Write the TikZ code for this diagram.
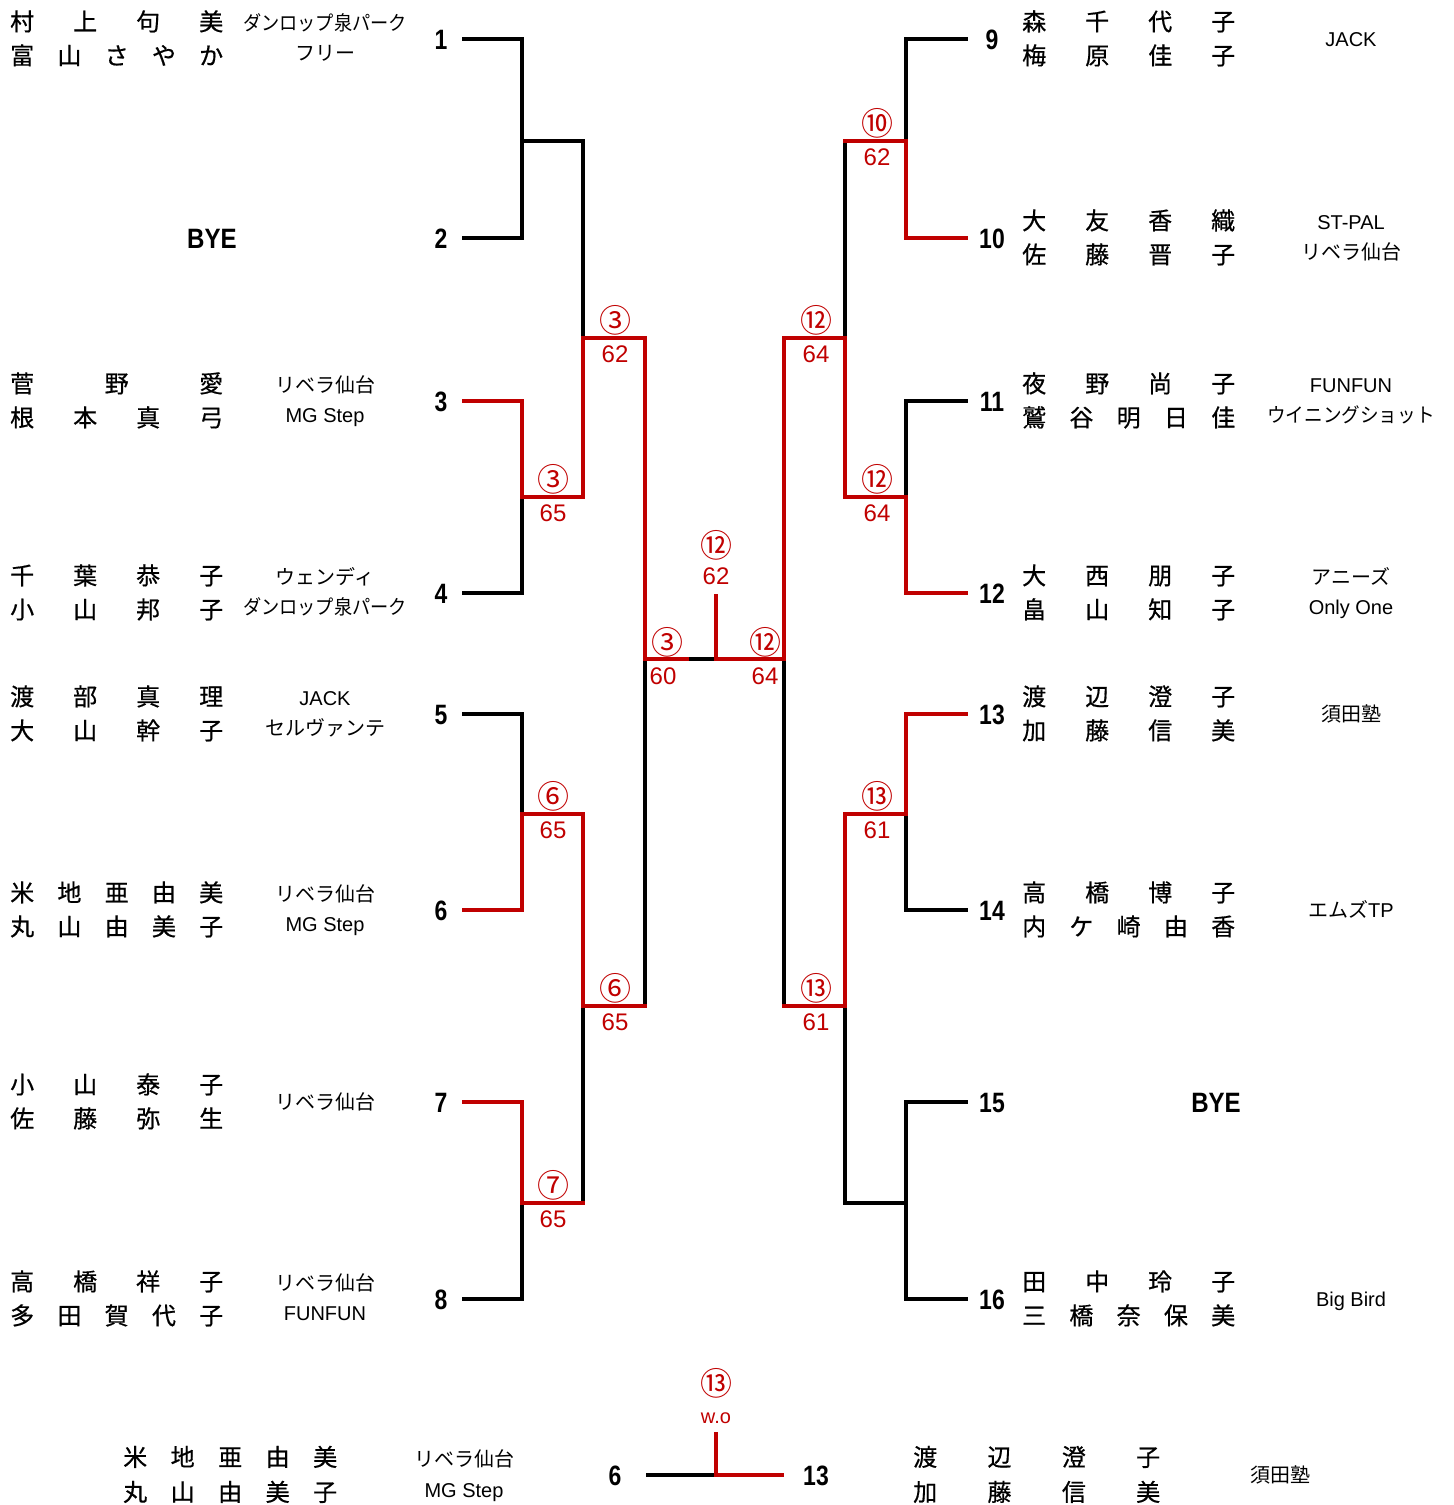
\documentclass[tikz,border=0pt]{standalone}
\usepackage{fontspec}
\setmainfont{Liberation Sans}
\newfontfamily\jp{Noto Sans CJK JP}
\newfontfamily\jpb[FakeBold=0.6]{Noto Sans CJK JP}
\definecolor{rd}{HTML}{C00000}
\newcommand\nr[1]{\scalebox{0.82}[1]{#1}}
\tikzset{
 ln/.style={line width=4.5pt, line join=miter, line cap=rect},
 blk/.style={ln, draw=black},
 rdl/.style={ln, draw=rd},
 nm/.style={anchor=base west, inner sep=0pt, font=\jpb\fontsize{24}{24}\selectfont},
 clb/.style={anchor=base, inner sep=0pt, font=\fontsize{20}{20}\selectfont},
 cj/.style={anchor=base, inner sep=0pt, font=\jp\fontsize{20}{20}\selectfont},
 num/.style={anchor=base, inner sep=0pt, font=\bfseries\fontsize{28}{28}\selectfont},
 circ/.style={anchor=base, inner sep=0pt, text=rd, font=\jp\fontsize{32}{32}\selectfont},
 sc/.style={anchor=base, inner sep=0pt, text=rd, font=\fontsize{24}{24}\selectfont},
}
\begin{document}
\begin{tikzpicture}[x=1pt,y=-1pt]
\useasboundingbox (0,0) rectangle (1454,1505);
% ---------- coordinates ----------
\foreach \i/\y in {1/39,2/238,3/401,4/593,5/714,6/910,7/1102,8/1299}
  \coordinate (s\i) at (464,\y);
\foreach \i/\y in {9/39,10/238,11/401,12/593,13/714,14/910,15/1102,16/1299}
  \coordinate (s\i) at (966,\y);
\coordinate (m12) at (522,141);  \coordinate (n12) at (583,141);
\coordinate (m34) at (522,497);  \coordinate (n34) at (583,497);
\coordinate (m56) at (522,814);  \coordinate (n56) at (583,814);
\coordinate (m78) at (522,1203); \coordinate (n78) at (583,1203);
\coordinate (r1) at (583,338);   \coordinate (r2) at (583,1006);
\coordinate (t1) at (645,338);   \coordinate (t2) at (645,1006);
\coordinate (f1) at (645,659);   \coordinate (g1) at (687,659);
\coordinate (c) at (716,659);    \coordinate (cs) at (716,596);
\coordinate (f2) at (784,659);
\coordinate (t3) at (784,338);   \coordinate (t4) at (784,1006);
\coordinate (r3) at (845,338);   \coordinate (r4) at (845,1006);
\coordinate (n910) at (845,141);   \coordinate (m910) at (906,141);
\coordinate (n1112) at (845,497);  \coordinate (m1112) at (906,497);
\coordinate (n1314) at (845,814);  \coordinate (m1314) at (906,814);
\coordinate (n1516) at (845,1203); \coordinate (m1516) at (906,1203);
\coordinate (b6) at (648,1475); \coordinate (bc) at (716,1475);
\coordinate (b13) at (782,1475); \coordinate (bs) at (716,1434);
% ---------- black lines ----------
\draw[blk] (s1) -| (m12) -- (n12) -- (r1);
\draw[blk] (s2) -| (m12);
\draw[blk] (s4) -| (m34);
\draw[blk] (s5) -| (m56);
\draw[blk] (s8) -| (m78);
\draw[blk] (r2) -- (n78);
\draw[blk] (f1) -- (t2);
\draw[blk] (g1) -- (c);
\draw[blk] (s9) -| (m910);
\draw[blk] (n910) -- (r3);
\draw[blk] (s11) -| (m1112);
\draw[blk] (s14) -| (m1314);
\draw[blk] (s15) -| (m1516) -- (n1516) -- (r4);
\draw[blk] (s16) -| (m1516);
\draw[blk] (f2) -- (t4);
\draw[blk] (b6) -- (bc);
% ---------- red lines ----------
\draw[rdl] (s3) -| (m34) -- (n34) -- (r1) -- (t1) -- (f1) -- (g1);
\draw[rdl] (s6) -| (m56) -- (n56) -- (r2) -- (t2);
\draw[rdl] (s7) -| (m78) -- (n78);
\draw[rdl] (s10) -| (m910) -- (n910);
\draw[rdl] (s12) -| (m1112) -- (n1112) -- (r3) -- (t3) -- (f2) -- (c);
\draw[rdl] (s13) -| (m1314) -- (n1314) -- (r4) -- (t4);
\draw[rdl] (cs) -- (c);
\draw[rdl] (bc) -- (b13);
\draw[rdl] (bs) -- (bc);
% ---------- draw numbers ----------
\foreach \i/\y in {1/49,2/248,3/411,4/603,5/724,6/920,7/1112,8/1309}
  \node[num] (k\i) at (441,\y) {\nr{\i}};
\foreach \i/\y in {9/49,10/248,11/411,12/603,13/724,14/920,15/1112,16/1309}
  \node[num] (k\i) at (992,\y) {\nr{\i}};
\node[num] (bye1) at (212,248) {\scalebox{0.86}[1]{BYE}};
\node[num] (bye2) at (1216,1112) {\scalebox{0.86}[1]{BYE}};
% ---------- left names ----------
\node[nm] (a1) at (10,30.5) {\hbox to 213pt{村\hfil 上\hfil 句\hfil 美}};
\node[nm] (b1) at (10,64.5) {\hbox to 213pt{富\hfil 山\hfil さ\hfil や\hfil か}};
\node[nm] (a3) at (10,392.5) {\hbox to 213pt{菅\hfil 野\hfil 愛}};
\node[nm] (b3) at (10,426.5) {\hbox to 213pt{根\hfil 本\hfil 真\hfil 弓}};
\node[nm] (a4) at (10,584.5) {\hbox to 213pt{千\hfil 葉\hfil 恭\hfil 子}};
\node[nm] (b4) at (10,618.5) {\hbox to 213pt{小\hfil 山\hfil 邦\hfil 子}};
\node[nm] (a5) at (10,705.5) {\hbox to 213pt{渡\hfil 部\hfil 真\hfil 理}};
\node[nm] (b5) at (10,739.5) {\hbox to 213pt{大\hfil 山\hfil 幹\hfil 子}};
\node[nm] (a6) at (10,901.5) {\hbox to 213pt{米\hfil 地\hfil 亜\hfil 由\hfil 美}};
\node[nm] (b6n) at (10,935.5) {\hbox to 213pt{丸\hfil 山\hfil 由\hfil 美\hfil 子}};
\node[nm] (a7) at (10,1093.5) {\hbox to 213pt{小\hfil 山\hfil 泰\hfil 子}};
\node[nm] (b7) at (10,1127.5) {\hbox to 213pt{佐\hfil 藤\hfil 弥\hfil 生}};
\node[nm] (a8) at (10,1290.5) {\hbox to 213pt{高\hfil 橋\hfil 祥\hfil 子}};
\node[nm] (b8) at (10,1324.5) {\hbox to 213pt{多\hfil 田\hfil 賀\hfil 代\hfil 子}};
% ---------- left clubs ----------
\node[cj] (c1a) at (325,30.5) {\scalebox{0.91}[1]{ダンロップ泉パーク}};
\node[cj] (c1b) at (325,60.5) {フリー};
\node[cj] (c3a) at (325,392.5) {リベラ仙台};
\node[clb] (c3b) at (325,422.5) {MG Step};
\node[cj] (c4a) at (325,584.5) {ウェンディ};
\node[cj] (c4b) at (325,614.5) {\scalebox{0.91}[1]{ダンロップ泉パーク}};
\node[clb] (c5a) at (325,705.5) {JACK};
\node[cj] (c5b) at (325,735.5) {セルヴァンテ};
\node[cj] (c6a) at (325,901.5) {リベラ仙台};
\node[clb] (c6b) at (325,931.5) {MG Step};
\node[cj] (c7) at (325,1109.5) {リベラ仙台};
\node[cj] (c8a) at (325,1290.5) {リベラ仙台};
\node[clb] (c8b) at (325,1320.5) {FUNFUN};
% ---------- right names ----------
\node[nm] (a9) at (1022,30.5) {\hbox to 213pt{森\hfil 千\hfil 代\hfil 子}};
\node[nm] (b9) at (1022,64.5) {\hbox to 213pt{梅\hfil 原\hfil 佳\hfil 子}};
\node[nm] (a10) at (1022,229.5) {\hbox to 213pt{大\hfil 友\hfil 香\hfil 織}};
\node[nm] (b10) at (1022,263.5) {\hbox to 213pt{佐\hfil 藤\hfil 晋\hfil 子}};
\node[nm] (a11) at (1022,392.5) {\hbox to 213pt{夜\hfil 野\hfil 尚\hfil 子}};
\node[nm] (b11) at (1022,426.5) {\hbox to 213pt{鷲\hfil 谷\hfil 明\hfil 日\hfil 佳}};
\node[nm] (a12) at (1022,584.5) {\hbox to 213pt{大\hfil 西\hfil 朋\hfil 子}};
\node[nm] (b12) at (1022,618.5) {\hbox to 213pt{畠\hfil 山\hfil 知\hfil 子}};
\node[nm] (a13) at (1022,705.5) {\hbox to 213pt{渡\hfil 辺\hfil 澄\hfil 子}};
\node[nm] (b13n) at (1022,739.5) {\hbox to 213pt{加\hfil 藤\hfil 信\hfil 美}};
\node[nm] (a14) at (1022,901.5) {\hbox to 213pt{高\hfil 橋\hfil 博\hfil 子}};
\node[nm] (b14) at (1022,935.5) {\hbox to 213pt{内\hfil ケ\hfil 崎\hfil 由\hfil 香}};
\node[nm] (a16) at (1022,1290.5) {\hbox to 213pt{田\hfil 中\hfil 玲\hfil 子}};
\node[nm] (b16) at (1022,1324.5) {\hbox to 213pt{三\hfil 橋\hfil 奈\hfil 保\hfil 美}};
% ---------- right clubs ----------
\node[clb] (c9) at (1351,46.5) {JACK};
\node[clb] (c10a) at (1351,229.5) {ST-PAL};
\node[cj] (c10b) at (1351,259.5) {リベラ仙台};
\node[clb] (c11a) at (1351,392.5) {FUNFUN};
\node[cj] (c11b) at (1351,422.5) {\scalebox{0.93}[1]{ウイニングショット}};
\node[cj] (c12a) at (1351,584.5) {アニーズ};
\node[clb] (c12b) at (1351,614.5) {Only One};
\node[cj] (c13) at (1351,721.5) {須田塾};
\node[clb] (c14) at (1351,917.5) {{\jp エムズ}TP};
\node[clb] (c16) at (1351,1306.5) {Big Bird};
% ---------- scores ----------
\node[circ] (o1) at (553,491) {③};  \node[sc] (p1) at (553,521) {65};
\node[circ] (o2) at (553,808) {⑥};  \node[sc] (p2) at (553,838) {65};
\node[circ] (o3) at (553,1197) {⑦}; \node[sc] (p3) at (553,1227) {65};
\node[circ] (o4) at (615,332) {③};  \node[sc] (p4) at (615,362) {62};
\node[circ] (o5) at (615,1000) {⑥};  \node[sc] (p5) at (615,1030) {65};
\node[circ] (o6) at (667,654.5) {③};    \node[sc] (p6) at (663,684.6) {60};
\node[circ] (o7) at (877,135) {⑩};  \node[sc] (p7) at (877,165) {62};
\node[circ] (o8) at (877,491) {⑫};  \node[sc] (p8) at (877,521) {64};
\node[circ] (o9) at (877,808) {⑬};  \node[sc] (p9) at (877,838) {61};
\node[circ] (o10) at (816,332) {⑫}; \node[sc] (p10) at (816,362) {64};
\node[circ] (o11) at (816,1000) {⑬}; \node[sc] (p11) at (816,1030) {61};
\node[circ] (o12) at (765,654.5) {⑫};   \node[sc] (p12) at (765,684.6) {64};
\node[circ] (o13) at (716,557.5) {⑫}; \node[sc] (p13) at (716,584.6) {62};
% ---------- bottom match ----------
\node[circ] (o14) at (716,1395.5) {⑬};
\node[anchor=base, inner sep=0pt, text=rd, font=\fontsize{20}{20}\selectfont] (wo) at (716,1423) {w.o};
\node[num] (k6b) at (615,1485) {\nr{6}};
\node[num] (k13b) at (816,1485) {\nr{13}};
\node[nm] (ba1) at (123,1466) {\hbox to 214pt{米\hfil 地\hfil 亜\hfil 由\hfil 美}};
\node[nm] (ba2) at (123,1501) {\hbox to 214pt{丸\hfil 山\hfil 由\hfil 美\hfil 子}};
\node[cj] (bc1) at (464,1466.6) {リベラ仙台};
\node[clb] (bc2) at (464,1497) {MG Step};
\node[nm] (bb1) at (913,1466) {\hbox to 247pt{渡\hfil 辺\hfil 澄\hfil 子}};
\node[nm] (bb2) at (913,1501) {\hbox to 247pt{加\hfil 藤\hfil 信\hfil 美}};
\node[cj] (bc3) at (1280,1482.6) {須田塾};
\end{tikzpicture}
\end{document}
